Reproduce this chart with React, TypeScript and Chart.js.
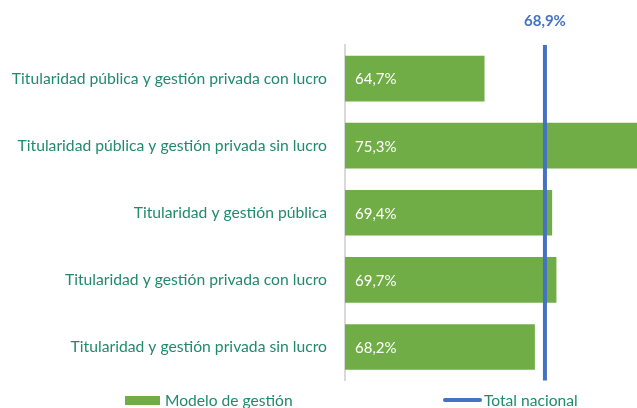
import React, { useEffect, useRef } from "react";
import { Chart, registerables } from "chart.js";

Chart.register(...registerables);

const categories = [
  "Titularidad pública y gestión privada con lucro",
  "Titularidad pública y gestión privada sin lucro",
  "Titularidad y gestión pública",
  "Titularidad y gestión privada con lucro",
  "Titularidad y gestión privada sin lucro",
];
const values = [64.7, 75.3, 69.4, 69.7, 68.2];
const totalNacional = 68.9;
const seriesLabel = "Modelo de gestión";
const lineLabel = "Total nacional";
const axisMin = 55;
const axisMax = 75.3;

const GREEN = "#70ad47";
const BLUE = "#4472c4";
const TEXT = "#218a6c";
const FONT = "Lato, 'Open Sans', sans-serif";

const fmt = (v: number) => v.toFixed(1).replace(".", ",") + "%";

export default function App() {
  const ref = useRef<HTMLCanvasElement | null>(null);

  useEffect(() => {
    document.body.style.margin = "0";
    const canvas = ref.current;
    if (!canvas) return;

    const overlay = {
      id: "overlay",
      afterDatasetsDraw(chart: any) {
        const ctx = chart.ctx;
        const meta = chart.getDatasetMeta(0);
        const { top, bottom, left } = chart.chartArea;
        ctx.save();
        ctx.fillStyle = "#ffffff";
        ctx.font = `15px ${FONT}`;
        ctx.textAlign = "left";
        ctx.textBaseline = "middle";
        meta.data.forEach((el: any, i: number) => {
          ctx.fillText(fmt(values[i]), Math.max(el.base, left) + 10, el.y + 1);
        });
        const x = chart.scales.x.getPixelForValue(totalNacional);
        ctx.strokeStyle = BLUE;
        ctx.lineWidth = 4;
        ctx.beginPath();
        ctx.moveTo(x, top);
        ctx.lineTo(x, bottom);
        ctx.stroke();
        ctx.fillStyle = BLUE;
        ctx.font = `bold 15px ${FONT}`;
        ctx.textAlign = "center";
        ctx.fillText(fmt(totalNacional), x, top - 24);
        ctx.restore();
      },
    };

    const chart = new Chart(canvas, {
      type: "bar",
      data: {
        labels: categories,
        datasets: [
          {
            label: seriesLabel,
            data: values,
            backgroundColor: GREEN,
            barPercentage: 0.68,
            categoryPercentage: 1,
          },
        ],
      },
      options: {
        indexAxis: "y",
        animation: false,
        responsive: false,
        maintainAspectRatio: false,
        layout: { padding: { top: 45, bottom: 26, left: 0, right: 0 } },
        plugins: {
          legend: { display: false },
          tooltip: { enabled: false },
        },
        scales: {
          x: {
            display: false,
            min: axisMin,
            max: axisMax,
          },
          y: {
            afterFit: (s: any) => {
              s.width = 345;
            },
            grid: { display: false, drawTicks: false },
            border: { display: true, color: "#d9d9d9", width: 2 },
            ticks: {
              color: TEXT,
              padding: 18,
              font: { family: FONT, size: 15.7 },
            },
          },
        },
      },
      plugins: [overlay],
    } as any);

    return () => chart.destroy();
  }, []);

  const legendText: React.CSSProperties = {
    position: "absolute",
    top: 390,
    fontFamily: FONT,
    fontSize: 15.6,
    color: TEXT,
    lineHeight: "20px",
    whiteSpace: "nowrap",
  };

  return (
    <div style={{ position: "relative", width: 637, height: 408, background: "#fff", overflow: "hidden" }}>
      <canvas ref={ref} width={637} height={408} style={{ position: "absolute", left: 0, top: 0 }} />
      <div style={{ position: "absolute", left: 125, top: 396, width: 35, height: 9, background: GREEN }} />
      <div style={{ ...legendText, left: 165 }}>{seriesLabel}</div>
      <div style={{ position: "absolute", left: 443, top: 398, width: 39, height: 4, borderRadius: 2, background: BLUE }} />
      <div style={{ ...legendText, left: 484 }}>{lineLabel}</div>
    </div>
  );
}
